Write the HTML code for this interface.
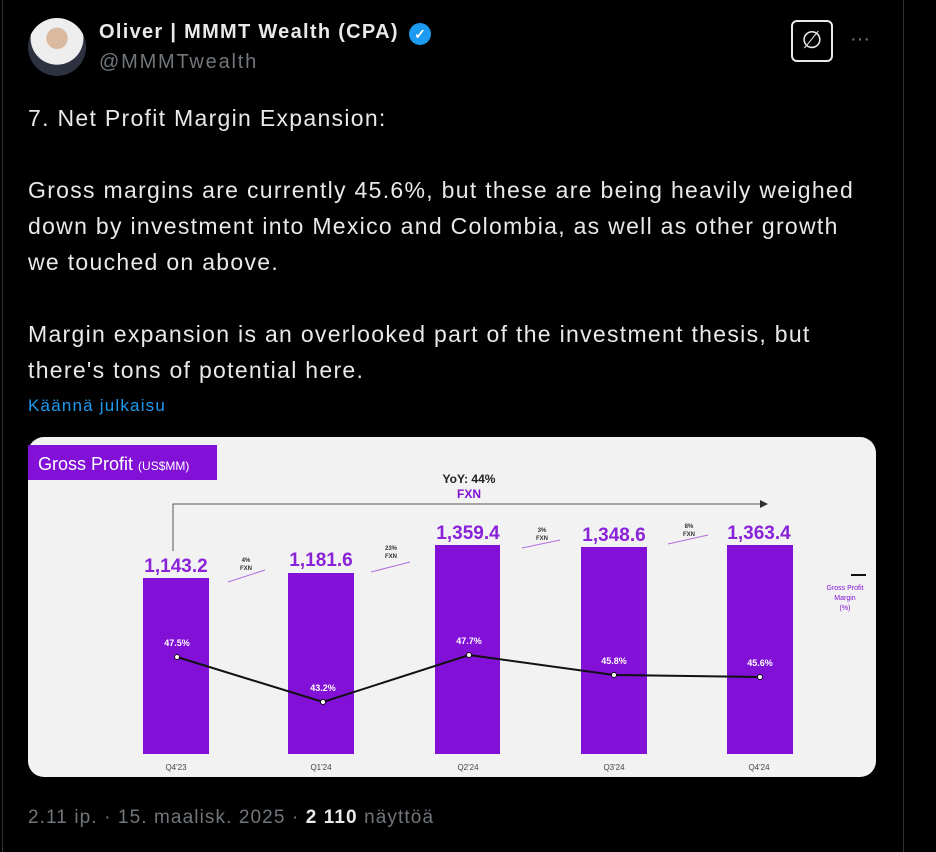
<!DOCTYPE html>
<html><head><meta charset="utf-8"><style>
body{margin:0;width:936px;height:852px;background:#000;position:relative;overflow:hidden;font-family:"Liberation Sans",sans-serif;color:#e7e9ea}
.a{position:absolute}
.t{font-size:23px;line-height:36px;color:#e7e9ea;letter-spacing:1.3px;white-space:nowrap}
</style></head><body>
<div class="a" style="left:2px;top:0;width:1px;height:852px;background:#2f3336"></div>
<div class="a" style="left:903px;top:0;width:1px;height:852px;background:#2f3336"></div>
<div class="a" style="left:28px;top:18px;width:58px;height:58px;border-radius:50%;background:radial-gradient(circle at 50% 35%,#d9b9a0 0 22%,#eee 23% 55%,#2d3140 56%)"></div>
<div class="a" style="left:99px;top:21px;font-size:20px;font-weight:bold;color:#e7e9ea;letter-spacing:1.3px">Oliver | MMMT Wealth (CPA)</div>
<div class="a" style="left:409px;top:23px;width:22px;height:22px;border-radius:50%;background:#1d9bf0;color:#fff;font-size:14px;text-align:center;line-height:22px;font-weight:bold">✓</div>
<div class="a" style="left:99px;top:51px;font-size:20px;color:#71767b;letter-spacing:1.8px">@MMMTwealth</div>
<div class="a" style="left:791px;top:20px;width:42px;height:42px;border:2px solid #e7e9ea;border-radius:6px;box-sizing:border-box;text-align:center;line-height:38px;font-size:24px">∅</div>
<div class="a" style="left:850px;top:28px;font-size:20px;color:#71767b">···</div>
<div class="a t" style="left:28px;top:100px">7. Net Profit Margin Expansion:</div>
<div class="a t" style="left:28px;top:172px">Gross margins are currently 45.6%, but these are being heavily weighed<br>down by investment into Mexico and Colombia, as well as other growth<br>we touched on above.</div>
<div class="a t" style="left:28px;top:316px">Margin expansion is an overlooked part of the investment thesis, but<br>there's tons of potential here.</div>
<div class="a" style="left:28px;top:396px;font-size:17px;color:#1d9bf0;letter-spacing:1.2px">Käännä julkaisu</div>
<svg class="a" style="left:28px;top:437px" width="849" height="341" viewBox="28 437 849 341">
<rect x="28" y="437" width="848" height="340" rx="16" fill="#f2f2f2"/>
<rect x="28" y="445" width="189" height="35" fill="#8210d6"/>
<text x="38" y="470" font-size="18" fill="#fff" font-family="Liberation Sans">Gross Profit <tspan font-size="12">(US$MM)</tspan></text>
<text x="469" y="483" font-size="12" font-weight="bold" text-anchor="middle" fill="#222">YoY: 44%</text>
<text x="469" y="498" font-size="12" font-weight="bold" text-anchor="middle" fill="#8210d6">FXN</text>
<polyline points="173,551 173,504 760,504" fill="none" stroke="#555" stroke-width="1"/>
<polygon points="760,500 768,504 760,508" fill="#333"/>
<g fill="#8210d6">
<rect x="143" y="578" width="66" height="176"/><rect x="288" y="573" width="66" height="181"/>
<rect x="435" y="545" width="65" height="209"/><rect x="581" y="547" width="66" height="207"/>
<rect x="727" y="545" width="66" height="209"/>
</g>
<g fill="#8a22d9" font-size="19" font-weight="bold" text-anchor="middle">
<text x="176" y="572">1,143.2</text><text x="321" y="566">1,181.6</text><text x="468" y="539">1,359.4</text><text x="614" y="541">1,348.6</text><text x="759" y="539">1,363.4</text>
</g>
<g font-size="6" font-weight="bold" fill="#333" text-anchor="middle">
<text x="246" y="562">4%</text><text x="246" y="570">FXN</text>
<text x="391" y="550">23%</text><text x="391" y="558">FXN</text>
<text x="542" y="532">3%</text><text x="542" y="540">FXN</text>
<text x="689" y="528">8%</text><text x="689" y="536">FXN</text>
</g>
<g stroke="#b070e0" stroke-width="1"><line x1="228" y1="582" x2="265" y2="570"/><line x1="371" y1="572" x2="410" y2="562"/><line x1="522" y1="548" x2="560" y2="540"/><line x1="668" y1="544" x2="708" y2="535"/></g>
<polyline points="177,657 323,702 469,655 614,675 760,677" fill="none" stroke="#111" stroke-width="2"/>
<g fill="#fff" stroke="#111"><circle cx="177" cy="657" r="2.5"/><circle cx="323" cy="702" r="2.5"/><circle cx="469" cy="655" r="2.5"/><circle cx="614" cy="675" r="2.5"/><circle cx="760" cy="677" r="2.5"/></g>
<g font-size="9" font-weight="bold" fill="#fff" text-anchor="middle">
<text x="177" y="646">47.5%</text><text x="323" y="691">43.2%</text><text x="469" y="644">47.7%</text><text x="614" y="664">45.8%</text><text x="760" y="666">45.6%</text>
</g>
<g font-size="8" fill="#444" text-anchor="middle">
<text x="176" y="770">Q4'23</text><text x="321" y="770">Q1'24</text><text x="468" y="770">Q2'24</text><text x="614" y="770">Q3'24</text><text x="759" y="770">Q4'24</text>
</g>
<line x1="851" y1="575" x2="866" y2="575" stroke="#111" stroke-width="2"/>
<g font-size="7" fill="#8210d6" text-anchor="middle"><text x="845" y="590">Gross Profit</text><text x="845" y="600">Margin</text><text x="845" y="610">(%)</text></g>
</svg>
<div class="a" style="left:28px;top:807px;font-size:19px;color:#71767b;letter-spacing:1.1px">2.11 ip. · 15. maalisk. 2025 · <b style="color:#e7e9ea">2 110</b> näyttöä</div>
</body></html>
